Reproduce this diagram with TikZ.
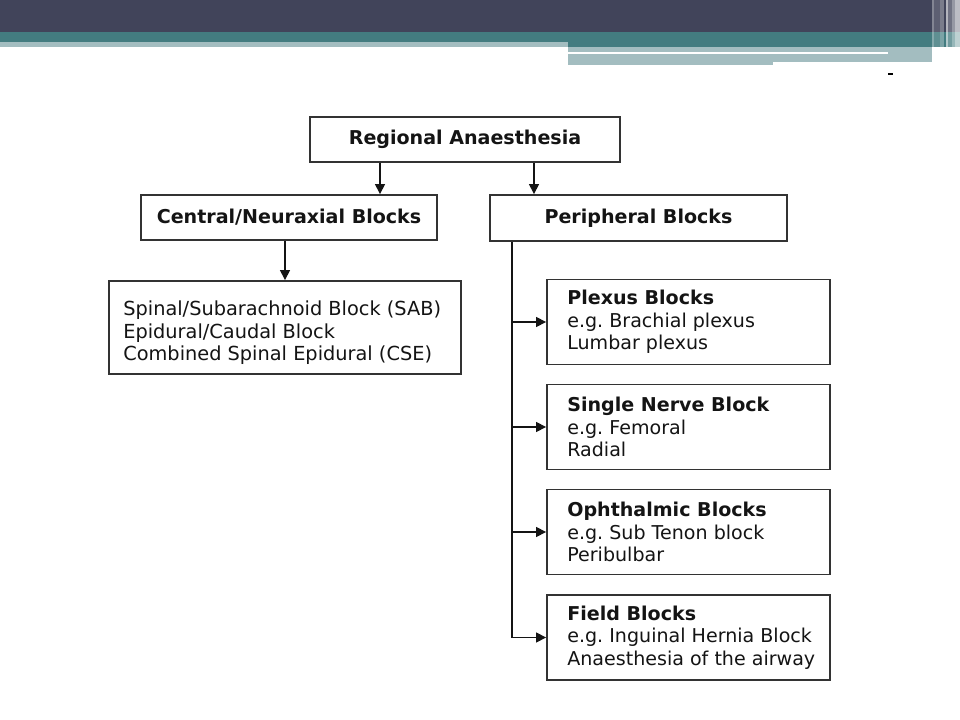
\documentclass[tikz,border=0pt]{standalone}
\usepackage{fontspec}
\setmainfont{DejaVu Sans}
\usetikzlibrary{arrows.meta}
\definecolor{banner}{HTML}{41445A}
\definecolor{teal1}{HTML}{437C80}
\definecolor{teal2}{HTML}{A3BDC0}
\definecolor{boxline}{HTML}{333333}
\definecolor{txt}{HTML}{141414}
\frenchspacing
\tikzset{
  bx/.style={draw=boxline, line width=1.4pt, fill=white, inner sep=0pt},
  headbox/.style={bx, text=txt, font=\bfseries\fontsize{14.3}{17}\selectfont, align=center},
  bodytext/.style={text=txt, inner sep=0pt, font=\fontsize{14.3}{16.8}\selectfont, align=left, anchor=west},
  arr/.style={draw=txt, line width=1.1pt, -{Triangle[length=7.5pt,width=7.5pt]}},
  ln/.style={draw=txt, line width=1.1pt},
}
\begin{document}
\begin{tikzpicture}[x=0.75pt,y=-0.75pt]
\useasboundingbox (0,0) rectangle (960,720);
% banner
\fill[banner] (0,0) rectangle (960,32);
\fill[teal1] (0,32) rectangle (960,42);
\fill[teal2] (0,42) rectangle (568,47);
\fill[teal1] (568,42) rectangle (960,47);
\fill[teal2] (568,47) rectangle (932,65);
\fill[white] (568,52) rectangle (888,54.5);
\fill[white] (773,62) rectangle (932,65);
% right vertical stripes
\fill[white,opacity=0.35] (932,0) rectangle (933.5,65);
\fill[white,opacity=0.15] (933.5,0) rectangle (940,65);
\fill[white,opacity=0.3] (940,0) rectangle (944,65);
\fill[white,opacity=0.6] (946,0) rectangle (948,65);
\fill[white,opacity=0.25] (948,0) rectangle (952,65);
\fill[white,opacity=0.45] (952,0) rectangle (955,65);
\fill[white,opacity=0.65] (955,0) rectangle (960,65);
\fill[black] (888,73) rectangle (893,75);

% header boxes
\node[headbox, minimum width=232.5pt, minimum height=33.75pt] (top) at (465,139.5) {Regional Anaesthesia};
\node[headbox, minimum width=222pt, minimum height=33.75pt] (central) at (289,217.5) {Central/Neuraxial Blocks};
\node[headbox, minimum width=222.75pt, minimum height=34.5pt] (periph) at (638.5,218) {Peripheral Blocks};

% list boxes
\node[bx, minimum width=264pt, minimum height=69.75pt] (list) at (285,327.5) {};
\node[bodytext, font=\fontsize{14.5}{16.8}\selectfont] (list-t) at ([xshift=11.25pt,yshift=-4pt]list.west)
  {Spinal/Subarachnoid Block (SAB)\\Epidural/Caudal Block\\Combined Spinal Epidural (CSE)};
\node[bx, minimum width=212.25pt, minimum height=63.75pt] (plexus) at (688.5,322) {};
\node[bodytext] (plexus-t) at ([xshift=15.75pt]plexus.west)
  {\textbf{Plexus Blocks}\\e.g. Brachial plexus\\Lumbar plexus};
\node[bx, minimum width=212.25pt, minimum height=63.75pt] (single) at (688.5,427) {};
\node[bodytext] (single-t) at ([xshift=15.75pt]single.west)
  {\textbf{Single Nerve Block}\\e.g. Femoral\\Radial};
\node[bx, minimum width=212.25pt, minimum height=63.75pt] (oph) at (688.5,532) {};
\node[bodytext] (oph-t) at ([xshift=15.75pt]oph.west)
  {\textbf{Ophthalmic Blocks}\\e.g. Sub Tenon block\\Peribulbar};
\node[bx, minimum width=212.25pt, minimum height=63.75pt] (field) at (688.5,637.5) {};
\node[bodytext] (field-t) at ([xshift=15.75pt]field.west)
  {\textbf{Field Blocks}\\e.g. Inguinal Hernia Block\\Anaesthesia of the airway};

% connectors
\coordinate (a1) at (380,0);
\coordinate (a2) at (534,0);
\coordinate (a3) at (285,0);
\coordinate (pv) at (512,0);
\draw[arr] (a1 |- top.south) -- (a1 |- central.north);
\draw[arr] (a2 |- top.south) -- (a2 |- periph.north);
\draw[arr] (a3 |- central.south) -- (a3 |- list.north);
\draw[ln] (pv |- periph.south) -- (pv |- field.west);
\draw[arr] (pv |- plexus.west) -- (plexus.west);
\draw[arr] (pv |- single.west) -- (single.west);
\draw[arr] (pv |- oph.west) -- (oph.west);
\draw[arr] (pv |- field.west) -- (field.west);
\end{tikzpicture}
\end{document}
